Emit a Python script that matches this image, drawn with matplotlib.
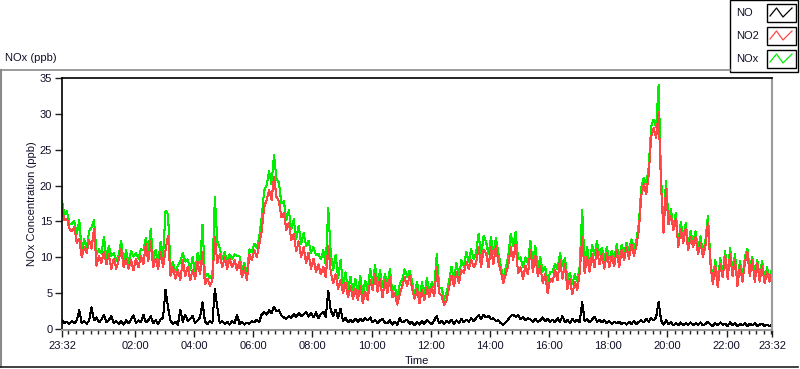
import numpy as np
import matplotlib.pyplot as plt
from matplotlib.lines import Line2D
from matplotlib.patches import Rectangle

plt.rcParams['font.family'] = ['Liberation Sans', 'DejaVu Sans']

# ---------------- data (5 min samples, starting 23:32) ----------------
start_clock = "23:32"
step_min = 5

no2 = [
    16.6, 15.2, 15.4, 14.0, 13.6, 14.2, 12.0, 12.6, 10.0, 11.4, 10.6, 12.4,
    11.2, 14.0, 8.8, 10.2, 9.2, 10.8, 9.0, 10.4, 8.4, 9.8, 8.4, 9.6,
    11.2, 8.6, 9.8, 8.4, 9.6, 8.2, 9.8, 8.6, 10.2, 9.0, 11.8, 9.4,
    12.2, 8.6, 9.8, 8.4, 10.8, 8.6, 11.0, 13.0, 7.4, 8.6, 7.0, 8.2,
    6.8, 9.6, 7.4, 8.6, 6.8, 8.2, 7.0, 9.4, 7.6, 10.8, 6.2, 7.0,
    6.0, 6.8, 12.8, 9.2, 10.4, 8.6, 10.0, 8.4, 9.8, 8.6, 9.6, 8.2,
    9.4, 7.2, 8.6, 6.8, 10.4, 9.6, 11.0, 10.0, 11.8, 13.6, 17.0, 18.0,
    19.4, 18.0, 21.2, 18.4, 17.8, 15.6, 16.2, 13.8, 14.8, 12.4, 13.2, 10.8,
    12.2, 10.0, 11.4, 9.2, 10.6, 8.4, 9.8, 8.0, 9.0, 7.6, 8.6, 7.2,
    11.6, 8.0, 6.4, 7.6, 5.6, 6.8, 5.0, 6.4, 4.4, 6.0, 4.2, 5.6,
    4.0, 6.0, 3.6, 5.2, 4.0, 6.8, 5.4, 7.6, 5.2, 7.0, 4.4, 6.8,
    5.0, 7.2, 4.4, 5.0, 3.4, 4.8, 6.0, 7.2, 6.0, 7.4, 5.6, 4.2,
    5.6, 3.6, 5.4, 4.0, 5.8, 4.4, 5.8, 4.6, 8.6, 5.0, 4.6, 3.4,
    4.0, 5.8, 7.4, 6.0, 8.0, 6.4, 8.2, 7.8, 9.4, 8.4, 9.6, 8.6,
    9.2, 11.4, 8.6, 11.0, 10.6, 8.6, 11.4, 9.0, 11.6, 9.4, 8.0, 6.4,
    7.6, 8.8, 11.4, 9.6, 11.8, 7.8, 8.6, 7.0, 8.8, 7.6, 11.0, 8.0,
    10.2, 7.4, 8.8, 6.4, 7.6, 5.0, 7.0, 6.6, 8.2, 6.8, 9.6, 7.0,
    9.0, 5.6, 7.0, 4.8, 6.6, 5.4, 7.8, 12.8, 7.8, 10.0, 8.0, 10.4,
    8.6, 11.2, 9.0, 10.4, 8.4, 10.6, 8.6, 10.2, 8.8, 11.0, 8.6, 11.0,
    9.6, 11.4, 9.8, 11.8, 10.2, 11.6, 13.8, 18.6, 20.2, 18.8, 21.6, 26.8,
    28.0, 26.6, 30.2, 20.0, 13.4, 19.5, 14.6, 15.8, 13.8, 15.4, 11.4, 14.0,
    12.0, 14.0, 11.0, 12.8, 11.4, 12.8, 10.4, 12.0, 10.0, 11.6, 14.8, 9.2,
    6.2, 8.8, 5.8, 9.0, 7.2, 10.2, 7.0, 10.4, 7.4, 9.6, 6.0, 8.8,
    6.6, 9.2, 10.8, 7.4, 9.6, 6.6, 9.2, 6.6, 8.8, 6.4, 8.0, 6.6, 7.8,
]

no = [
    1.2, 0.8, 1.0, 0.7, 1.1, 0.8, 1.2, 2.6, 0.8, 1.1, 0.7, 1.2,
    3.0, 1.2, 1.6, 0.9, 1.3, 2.0, 0.9, 1.2, 1.8, 0.8, 1.1, 0.7,
    1.1, 0.6, 1.2, 0.8, 1.3, 1.9, 0.8, 1.2, 0.9, 2.0, 0.9, 1.2,
    1.8, 0.8, 1.2, 0.7, 1.3, 1.6, 5.5, 3.0, 1.2, 0.7, 1.0, 0.6,
    2.6, 1.0, 2.0, 1.1, 1.4, 1.8, 0.8, 1.2, 1.6, 3.7, 1.0, 0.7,
    1.1, 0.8, 5.6, 3.0, 0.8, 1.1, 0.7, 1.0, 0.6, 1.1, 0.8, 2.0,
    0.7, 1.0, 0.6, 0.9, 0.7, 1.1, 0.9, 1.3, 1.0, 2.0, 2.3, 2.0,
    2.6, 2.2, 3.1, 2.5, 2.6, 1.9, 1.6, 1.4, 1.8, 1.5, 2.1, 1.7,
    2.2, 1.8, 2.0, 2.4, 1.7, 2.2, 1.6, 2.3, 1.5, 2.1, 2.4, 1.7,
    5.3, 2.6, 1.8, 2.7, 1.5, 2.8, 1.1, 1.5, 0.9, 1.3, 0.9, 1.4,
    1.0, 1.4, 1.1, 1.5, 1.2, 1.6, 0.9, 1.3, 0.8, 1.2, 1.4, 0.9,
    0.8, 1.2, 0.6, 1.0, 0.6, 1.5, 0.9, 1.1, 1.3, 0.7, 1.0, 0.5,
    1.0, 0.6, 1.1, 0.7, 1.3, 0.9, 0.7, 1.2, 1.8, 0.8, 1.1, 0.7,
    1.1, 0.8, 1.3, 0.7, 1.2, 0.8, 1.4, 0.9, 1.3, 1.0, 1.5, 1.1,
    1.5, 1.9, 1.4, 2.0, 1.6, 1.8, 1.4, 1.5, 1.1, 1.2, 0.8, 0.6,
    0.9, 1.3, 1.8, 2.0, 1.7, 1.9, 1.4, 1.6, 1.2, 1.5, 1.3, 1.0,
    1.4, 1.0, 1.2, 1.6, 1.1, 1.4, 1.0, 1.3, 0.9, 1.5, 1.0, 1.8,
    0.9, 1.3, 0.8, 1.4, 1.0, 1.3, 0.9, 3.8, 1.1, 1.4, 0.9, 1.3,
    1.7, 1.0, 1.3, 0.9, 1.2, 0.8, 1.1, 0.7, 1.0, 0.8, 1.0, 0.7,
    0.9, 0.6, 1.0, 0.7, 1.1, 0.7, 1.0, 1.2, 0.9, 1.4, 1.0, 1.5,
    1.2, 1.6, 3.8, 1.2, 0.6, 1.2, 0.7, 0.9, 0.5, 0.8, 0.5, 0.9,
    0.5, 0.8, 0.6, 0.9, 0.5, 0.8, 0.6, 0.9, 0.5, 0.7, 1.0, 0.6,
    0.4, 0.8, 0.5, 0.9, 0.6, 0.7, 0.4, 0.9, 0.5, 0.8, 0.4, 0.7,
    0.5, 0.8, 0.4, 0.7, 0.5, 0.8, 0.4, 0.6, 0.7, 0.4, 0.6, 0.4, 0.6,
]

# NOx = NO + NO2
nox = [a + b for a, b in zip(no, no2)]

hour_labels = ["02:00", "04:00", "06:00", "08:00", "10:00",
               "12:00", "14:00", "16:00", "18:00", "20:00", "22:00"]
y_ticks = [0, 5, 10, 15, 20, 25, 30, 35]

# ---------------- helpers ----------------
W, H = 800, 369


def clock_to_min(s):
    h, m = s.split(":")
    return int(h) * 60 + int(m)


t0 = clock_to_min(start_clock)
minutes = np.arange(len(no2)) * step_min
span = minutes[-1]

major_pos = [0] + [(clock_to_min(s) - t0) % 1440 for s in hour_labels] + [span]
major_lab = [start_clock] + hour_labels + [start_clock]
first_q = (15 - t0 % 15) % 15
minor_pos = [m for m in range(first_q, span, 15) if m not in major_pos]


def px(x, y):
    # pixel coords (from top-left) -> figure fraction
    return x / W, 1 - y / H


fig = plt.figure(figsize=(W / 100, H / 100), dpi=100)
fig.patch.set_facecolor('white')

# outer panel frame
fig.add_artist(Line2D([0 / W, 730 / W], [1 - 69.5 / H] * 2, color='#8a8a8a', lw=1.2))
fig.add_artist(Line2D([0.8 / W] * 2, [1 - 69.5 / H, 1 - 367 / H], color='#8a8a8a', lw=1.5))
fig.add_artist(Line2D([0, 798 / W], [1 - 367 / H] * 2, color='#202020', lw=1.2))

ax = fig.add_axes([62 / W, 1 - 330 / H, 710 / W, 252 / H])
ax.plot(minutes, nox, color='#00ee00', lw=0.75, antialiased=False)
ax.plot(minutes, no2, color='#ff4646', lw=0.75, antialiased=False)
ax.plot(minutes, no, color='black', lw=0.75, antialiased=False)

ax.set_xlim(0, span)
ax.set_ylim(-0.15, 35)
ax.set_yticks(y_ticks)
ax.set_xticks(major_pos, major_lab)
ax.set_xticks(minor_pos, minor=True)
ax.tick_params(axis='both', which='major', labelsize=8, direction='out',
               length=5, width=1, color='#202020', labelcolor='#101028')
ax.tick_params(axis='x', which='major', pad=3)
ax.tick_params(axis='x', which='minor', length=3, width=1, color='#202020')
ax.tick_params(axis='y', which='major', pad=2)

for side in ['top', 'left']:
    ax.spines[side].set_color('black')
    ax.spines[side].set_linewidth(1.2)
for side in ['right', 'bottom']:
    ax.spines[side].set_color('#9a9a9a')
    ax.spines[side].set_linewidth(1.5)

# labels
fig.text(*px(5, 58), "NOx (ppb)", ha='left', va='center', fontsize=8, color='#101028')
fig.text(*px(32, 204), "NOx Concentration (ppb)", rotation=90,
         ha='center', va='center', fontsize=8, color='#101028')
fig.text(*px(417, 361), "Time", ha='center', va='center', fontsize=8, color='#101028')

# legend box (LabVIEW style plot legend)
lx, ly = px(730, 72)
fig.add_artist(Rectangle((lx, ly), 68 / W, 72 / H, transform=fig.transFigure,
                         facecolor='white', edgecolor='black', lw=1))
legend_items = [("NO", 'black'), ("NO2", '#ff4646'), ("NOx", '#00ee00')]
for k, (name, col) in enumerate(legend_items):
    yc = 13 + 23 * k
    fig.text(*px(736, yc), name, ha='left', va='center', fontsize=8, color='#101028')
    bx, by = px(767, yc + 9)
    fig.add_artist(Rectangle((bx, by), 29 / W, 18 / H, transform=fig.transFigure,
                             facecolor='white', edgecolor='black', lw=1))
    xs = [770, 776.5, 783, 792]
    ys = [yc + 3, yc - 5, yc + 4, yc - 5]
    fig.add_artist(Line2D([x / W for x in xs], [1 - y / H for y in ys],
                          color=col, lw=0.9))

fig.savefig("out.png", dpi=100, facecolor='white')
